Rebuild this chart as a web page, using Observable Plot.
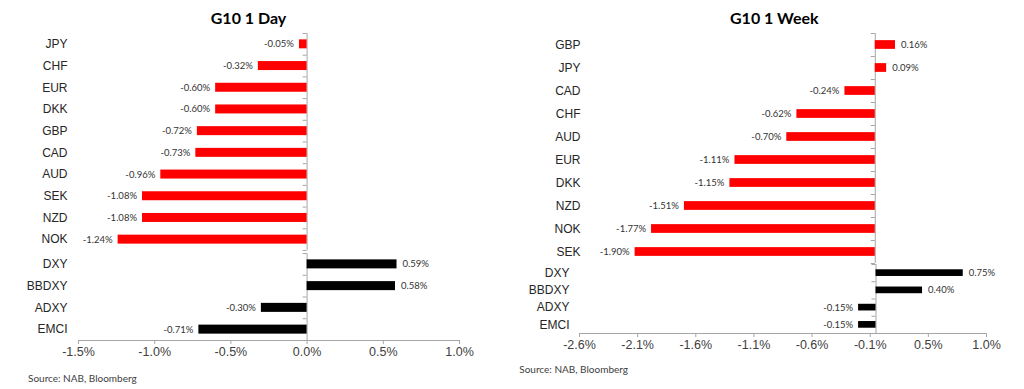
<!DOCTYPE html>
<html>
<head>
<meta charset="utf-8">
<script src="https://cdn.jsdelivr.net/npm/d3@7"></script>
<script src="https://cdn.jsdelivr.net/npm/@observablehq/plot@0.6"></script>
<style>
  html, body { margin: 0; padding: 0; background: #fff; }
  #root { position: relative; width: 1024px; height: 389px; overflow: hidden; background: #fff; }
  .abs { position: absolute; }
  .title { font-family: Lato, "Open Sans", sans-serif; font-weight: 700; font-size: 16px; color: #000; transform: translate(-50%, -50%); white-space: nowrap; }
  .source { font-family: Lato, "Open Sans", sans-serif; font-size: 10px; color: #404040; transform: translateY(-50%); white-space: nowrap; }
  svg { background: transparent !important; }
</style>
</head>
<body>
<div id="root"></div>
<script>
// ---------- DATA ----------
const dayTitle = "G10 1 Day";
const weekTitle = "G10 1 Week";
const sourceText = "Source: NAB, Bloomberg";

const dayG10Cats = ["JPY", "CHF", "EUR", "DKK", "GBP", "CAD", "AUD", "SEK", "NZD", "NOK"];
const dayG10Vals = [-0.05, -0.32, -0.60, -0.60, -0.72, -0.73, -0.96, -1.08, -1.08, -1.24];
const dayIdxCats = ["DXY", "BBDXY", "ADXY", "EMCI"];
const dayIdxVals = [0.59, 0.58, -0.30, -0.71];
const dayTicks = [-1.5, -1.0, -0.5, 0.0, 0.5, 1.0];
const dayTickLabels = ["-1.5%", "-1.0%", "-0.5%", "0.0%", "0.5%", "1.0%"];

const weekG10Cats = ["GBP", "JPY", "CAD", "CHF", "AUD", "EUR", "DKK", "NZD", "NOK", "SEK"];
const weekG10Vals = [0.16, 0.09, -0.24, -0.62, -0.70, -1.11, -1.15, -1.51, -1.77, -1.90];
const weekIdxCats = ["DXY", "BBDXY", "ADXY", "EMCI"];
const weekIdxVals = [0.75, 0.40, -0.15, -0.15];
const weekTicks = [-2.55, -2.05, -1.55, -1.05, -0.55, -0.05, 0.45, 0.95];
const weekTickLabels = ["-2.6%", "-2.1%", "-1.6%", "-1.1%", "-0.6%", "-0.1%", "0.5%", "1.0%"];

// ---------- STYLE ----------
const RED = "#ff0000";
const BLACK = "#000000";
const AXIS = "#a6a6a6";
const TEXT = "#262626";
const LABEL = "#333333";

const root = document.getElementById("root");

function addText(cls, text, x, y) {
  const d = document.createElement("div");
  d.className = "abs " + cls;
  d.textContent = text;
  d.style.left = x + "px";
  d.style.top = y + "px";
  root.appendChild(d);
}

function panel({cats, vals, color, domain, left, top, width, ml, mr, frameH, pad, catDx, ticks, tickLabels}) {
  const n = cats.length;
  const table = cats.map((c, i) => ({c, v: vals[i], i}));
  const bounds = d3.range(n + 1);
  const hasAxis = !!ticks;
  const mb = hasAxis ? 30 : 0;
  const marks = [
    Plot.ruleX([0], {stroke: AXIS, strokeWidth: 1}),
    Plot.ruleY(bounds, {y: d => d, x1: 0, x2: 0, insetLeft: -4, stroke: AXIS}),
    Plot.rectX(table, {x1: 0, x2: "v", y1: d => d.i + pad, y2: d => d.i + 1 - pad, fill: color}),
    Plot.text(table.filter(d => d.v < 0), {x: "v", y: d => d.i + 0.5, text: d => d.v.toFixed(2) + "%",
      textAnchor: "end", dx: -5.5, fontFamily: "Lato, 'Open Sans', sans-serif", fontSize: 9.5, fill: LABEL}),
    Plot.text(table.filter(d => d.v >= 0), {x: "v", y: d => d.i + 0.5, text: d => d.v.toFixed(2) + "%",
      textAnchor: "start", dx: 5.5, fontFamily: "Lato, 'Open Sans', sans-serif", fontSize: 9.5, fill: LABEL}),
    Plot.text(table, {y: d => d.i + 0.5, text: "c", frameAnchor: "left", textAnchor: "end", dx: catDx,
      fontFamily: "'Liberation Sans', Arial, sans-serif", fontSize: 12, fill: TEXT})
  ];
  if (hasAxis) {
    const lab = new Map(ticks.map((t, i) => [t, tickLabels[i]]));
    marks.push(Plot.ruleY([n], {stroke: AXIS}));
    marks.push(Plot.axisX({ticks, tickFormat: d => lab.get(d), tickSize: 4, tickPadding: 3, label: null,
      stroke: AXIS, fill: "#404040", fontSize: 12.5, fontFamily: "'Liberation Sans', Arial, sans-serif"}));
  }
  const svg = Plot.plot({
    width, height: frameH + mb,
    marginLeft: ml, marginRight: mr, marginTop: 0, marginBottom: mb,
    x: {domain, axis: hasAxis ? undefined : null, label: null},
    y: {domain: [0, n], range: [0, frameH], axis: null},
    style: {background: "transparent", overflow: "visible", fontFamily: "'Liberation Sans', Arial, sans-serif", fontSize: "12px"},
    marks
  });
  svg.style.position = "absolute";
  svg.style.left = left + "px";
  svg.style.top = top + "px";
  root.appendChild(svg);
}

// ---------- LEFT: 1 Day ----------
addText("title", dayTitle, 248.5, 17);
panel({cats: dayG10Cats, vals: dayG10Vals, color: RED, domain: [-1.5, 1.0],
  left: 0, top: 33, width: 500, ml: 78, mr: 41, frameH: 217, pad: 0.293, catDx: -11});
panel({cats: dayIdxCats, vals: dayIdxVals, color: BLACK, domain: [-1.5, 1.0],
  left: 0, top: 253, width: 500, ml: 78, mr: 41, frameH: 87, pad: 0.293, catDx: -11,
  ticks: dayTicks, tickLabels: dayTickLabels});
addText("source", sourceText, 28, 378);

// ---------- RIGHT: 1 Week ----------
addText("title", weekTitle, 774.3, 17);
panel({cats: weekG10Cats, vals: weekG10Vals, color: RED, domain: [-2.34, 0.88],
  left: 512, top: 33, width: 512, ml: 67, mr: 38, frameH: 230, pad: 0.31, catDx: 1});
panel({cats: weekIdxCats, vals: weekIdxVals, color: BLACK, domain: [-2.55, 0.95],
  left: 512, top: 264, width: 512, ml: 67, mr: 38, frameH: 69, pad: 0.306, catDx: -10,
  ticks: weekTicks, tickLabels: weekTickLabels});
addText("source", sourceText, 519.3, 369);
</script>
</body>
</html>
